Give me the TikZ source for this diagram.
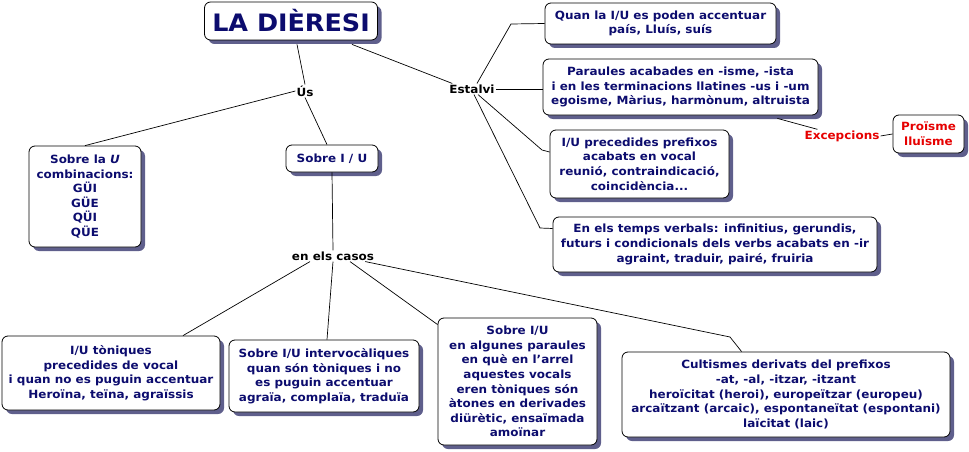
\documentclass[tikz,border=0pt]{standalone}
\usepackage{fontspec}
\setmainfont{DejaVu Sans}[FakeStretch=1.06]
\usetikzlibrary{shadows,calc}
\definecolor{navy}{RGB}{12,12,110}
\definecolor{shadowc}{RGB}{95,95,140}
\definecolor{redt}{RGB}{230,0,0}
\tikzset{
  box/.style={draw=black, line width=0.8pt, rounded corners=6pt, fill=white, align=center,
    font=\fontsize{11.3}{14.6}\selectfont\bfseries, text=navy, inner sep=0pt,
    drop shadow={shadow xshift=4pt, shadow yshift=-4pt, fill=shadowc, opacity=1}},
  lbl/.style={font=\fontsize{11.3}{13}\selectfont\bfseries, inner sep=1pt, text=black},
  conn/.style={draw=black, line width=0.7pt}
}
\begin{document}
\begin{tikzpicture}[x=1pt,y=-1pt]
\useasboundingbox (0,0) rectangle (969,452);
% boxes
\node[box, minimum width=173pt, minimum height=38pt, font=\fontsize{24}{28}\selectfont\bfseries] (title) at (291,21) {LA DIÈRESI};
\node[box, minimum width=231pt, minimum height=41pt] (quan) at (660.5,23.5) {Quan la I/U es poden accentuar\\país, Lluís, suís};
\node[box, minimum width=275pt, minimum height=56pt] (paraules) at (680.5,87) {Paraules acabades en -isme, -ista\\i en les terminacions llatines -us i -um\\egoisme, Màrius, harmònum, altruista};
\node[box, minimum width=179pt, minimum height=68pt] (preced) at (639.5,164) {I/U precedides prefixos\\acabats en vocal\\reunió, contraindicació,\\coincidència...};
\node[box, minimum width=324pt, minimum height=55pt] (temps) at (715,244.5) {En els temps verbals: infinitius, gerundis,\\futurs i condicionals dels verbs acabats en -ir\\agraint, traduir, pairé, fruiria};
\node[box, minimum width=71pt, minimum height=38pt, text=redt] (proisme) at (928.5,134) {Proïsme\\lluïsme};
\node[box, minimum width=112pt, minimum height=101pt] (sobreU) at (85,196.5) {Sobre la \textit{U}\\combinacions:\\GÜI\\GÜE\\QÜI\\QÜE};
\node[box, minimum width=92pt, minimum height=27pt] (sobreIU) at (332,158.5) {Sobre I / U};
\node[box, minimum width=218pt, minimum height=74pt] (toniques) at (111,373) {I/U tòniques\\precedides de vocal\\i quan no es puguin accentuar\\Heroïna, teïna, agraïssis};
\node[box, minimum width=190pt, minimum height=72pt] (interv) at (324,376) {Sobre I/U intervocàliques\\quan són tòniques i no\\es puguin accentuar\\agraïa, complaïa, traduïa};
\node[box, minimum width=159pt, minimum height=127pt] (algunes) at (517.5,381.5) {Sobre I/U\\en algunes paraules\\en què en l{\char"27}arrel\\aquestes vocals\\eren tòniques són\\àtones en derivades\\diürètic, ensaïmada\\amoïnar};
\node[box, minimum width=328pt, minimum height=85pt] (cult) at (786,394.5) {Cultismes derivats del prefixos\\-at, -al, -itzar, -itzant\\heroïcitat (heroi), europeïtzar (europeu)\\arcaïtzant (arcaic), espontaneïtat (espontani)\\laïcitat (laic)};
% labels
\node[lbl] (us) at (305,91) {Ús};
\node[lbl] (estalvi) at (472,89) {Estalvi};
\node[lbl] (casos) at (333,256) {en els casos};
\node[lbl, text=redt] (excep) at (842,136) {Excepcions};
% bend points
\coordinate (b1) at (511,24);
\coordinate (b2) at (542,150);
\coordinate (b3) at (540,228);
\coordinate (b4) at (730,337);
% connectors
\draw[conn] ($(title.south)+(6,4)$) -- (us.north);
\draw[conn] (us.west) -- (sobreU.north);
\draw[conn] (us.south) -- ($(sobreIU.north)+(-5,0)$);
\draw[conn] ($(title.south)+(61,4)$) -- ($(estalvi.north west)+(4,0)$);
\draw[conn] ($(estalvi.north)+(5,0)$) -- (b1) -- (quan.west);
\draw[conn] (estalvi.east) -- (paraules.west |- estalvi.east);
\draw[conn] ($(estalvi.south)+(6,0)$) -- (b2) -- ($(preced.west)+(0,-12)$);
\draw[conn] ($(estalvi.south)+(2,0)$) -- (b3) -- ($(temps.west)+(0,-16)$);
\draw[conn] ($(paraules.south east)+(-41,3)$) -- ($(excep.north west)+(14,0)$);
\draw[conn] (excep.east) -- (proisme.west);
\draw[conn] (sobreIU.south) -- (casos.north);
\draw[conn] ($(casos.south)+(-23,0)$) -- ($(toniques.north)+(72,0)$);
\draw[conn] (casos.south) -- ($(interv.north)+(3,0)$);
\draw[conn] ($(casos.south)+(17,0)$) -- ($(algunes.north west)+(0,7)$);
\draw[conn] ($(casos.south east)+(-10,0)$) -- (b4) -- ($(cult.north west)+(120,0)$);
\end{tikzpicture}
\end{document}
